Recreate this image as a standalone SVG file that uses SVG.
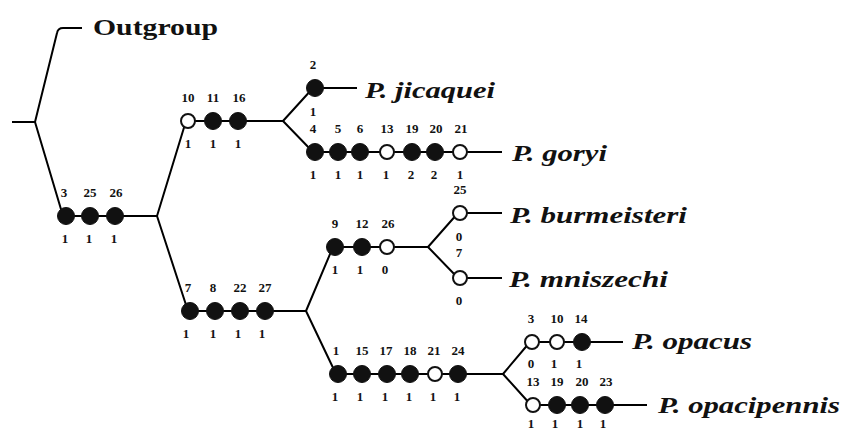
<svg xmlns="http://www.w3.org/2000/svg" width="842" height="432" viewBox="0 0 842 432">
<style>
.e{fill:none;stroke:#000;stroke-width:2;stroke-linejoin:round}
.f{fill:#111;stroke:#111;stroke-width:1}
.o{fill:#fff;stroke:#111;stroke-width:2}
.n{font-family:"Liberation Serif","Times New Roman",serif;font-size:13px;font-weight:bold;text-anchor:middle;fill:#111}
.t{font-family:"Liberation Serif","Times New Roman",serif;font-size:24px;font-weight:bold;font-style:italic;fill:#111}
.g{font-family:"Liberation Serif","Times New Roman",serif;font-size:24px;font-weight:bold;fill:#111}
</style>
<rect width="842" height="432" fill="#fff"/>
<g id="connectors">
<path class="e" d="M12,122 H35"/>
<path class="e" d="M35,122 L57,33 Q58,28 63,28 H82"/>
<path class="e" d="M35,122 L63,216 H157"/>
<path class="e" d="M157,216 L186,121 H283"/>
<path class="e" d="M283,121 L313,88 H357"/>
<path class="e" d="M283,121 L313,152 H502"/>
<path class="e" d="M157,216 L188,311 H306"/>
<path class="e" d="M306,311 L333,247 H428"/>
<path class="e" d="M428,247 L458,213 H502"/>
<path class="e" d="M428,247 L458,278 H502"/>
<path class="e" d="M306,311 L336,374 H503"/>
<path class="e" d="M503,374 L530,342 H623"/>
<path class="e" d="M503,374 L531,405 H647"/>
</g>
<g id="taxa">
<g id="outgroup"><text class="g" x="93" y="35" textLength="125" lengthAdjust="spacingAndGlyphs">Outgroup</text></g>
<g id="jicaquei"><text class="t" x="365" y="98" textLength="130" lengthAdjust="spacingAndGlyphs">P. jicaquei</text></g>
<g id="goryi"><text class="t" x="512" y="161" textLength="95" lengthAdjust="spacingAndGlyphs">P. goryi</text></g>
<g id="burmeisteri"><text class="t" x="510" y="223" textLength="177" lengthAdjust="spacingAndGlyphs">P. burmeisteri</text></g>
<g id="mniszechi"><text class="t" x="509" y="287" textLength="159" lengthAdjust="spacingAndGlyphs">P. mniszechi</text></g>
<g id="opacus"><text class="t" x="632" y="349" textLength="120" lengthAdjust="spacingAndGlyphs">P. opacus</text></g>
<g id="opacipennis"><text class="t" x="658" y="413" textLength="182" lengthAdjust="spacingAndGlyphs">P. opacipennis</text></g>
</g>
<g id="branch-a">
<circle class="f" cx="66" cy="216" r="8.5"/><circle class="f" cx="90" cy="216" r="8.5"/><circle class="f" cx="115" cy="216" r="8.5"/>
<text class="n" x="64" y="197">3</text><text class="n" x="90" y="197">25</text><text class="n" x="116" y="197">26</text>
<text class="n" x="65" y="243">1</text><text class="n" x="89" y="243">1</text><text class="n" x="114" y="243">1</text>
</g>
<g id="branch-b">
<circle class="o" cx="188" cy="121" r="7"/><circle class="f" cx="213" cy="121" r="8.5"/><circle class="f" cx="238" cy="121" r="8.5"/>
<text class="n" x="188" y="102">10</text><text class="n" x="213" y="102">11</text><text class="n" x="239" y="102">16</text>
<text class="n" x="188" y="148">1</text><text class="n" x="213" y="148">1</text><text class="n" x="238" y="148">1</text>
</g>
<g id="branch-jicaquei">
<circle class="f" cx="315" cy="88" r="8.5"/>
<text class="n" x="313" y="69">2</text><text class="n" x="313" y="116">1</text>
</g>
<g id="branch-goryi">
<circle class="f" cx="315" cy="152" r="8.5"/><circle class="f" cx="338" cy="152" r="8.5"/><circle class="f" cx="360" cy="152" r="8.5"/><circle class="o" cx="387" cy="152" r="7"/><circle class="f" cx="412" cy="152" r="8.5"/><circle class="f" cx="435" cy="152" r="8.5"/><circle class="o" cx="460" cy="152" r="7"/>
<text class="n" x="313" y="133">4</text><text class="n" x="338" y="133">5</text><text class="n" x="360" y="133">6</text><text class="n" x="387" y="133">13</text><text class="n" x="412" y="133">19</text><text class="n" x="436" y="133">20</text><text class="n" x="461" y="133">21</text>
<text class="n" x="313" y="179">1</text><text class="n" x="338" y="179">1</text><text class="n" x="360" y="179">1</text><text class="n" x="386" y="179">1</text><text class="n" x="411" y="179">2</text><text class="n" x="434" y="179">2</text><text class="n" x="460" y="179">1</text>
</g>
<g id="branch-c">
<circle class="f" cx="190" cy="311" r="8.5"/><circle class="f" cx="215" cy="311" r="8.5"/><circle class="f" cx="240" cy="311" r="8.5"/><circle class="f" cx="265" cy="311" r="8.5"/>
<text class="n" x="188" y="292">7</text><text class="n" x="213" y="292">8</text><text class="n" x="240" y="292">22</text><text class="n" x="265" y="292">27</text>
<text class="n" x="186" y="338">1</text><text class="n" x="213" y="338">1</text><text class="n" x="238" y="338">1</text><text class="n" x="262" y="338">1</text>
</g>
<g id="branch-d">
<circle class="f" cx="335" cy="247" r="8.5"/><circle class="f" cx="362" cy="247" r="8.5"/><circle class="o" cx="387" cy="247" r="7"/>
<text class="n" x="335" y="228">9</text><text class="n" x="362" y="228">12</text><text class="n" x="388" y="228">26</text>
<text class="n" x="335" y="274">1</text><text class="n" x="360" y="274">1</text><text class="n" x="385" y="274">0</text>
</g>
<g id="branch-burmeisteri">
<circle class="o" cx="460" cy="213" r="7"/>
<text class="n" x="460" y="194">25</text><text class="n" x="459" y="241">0</text>
</g>
<g id="branch-mniszechi">
<circle class="o" cx="460" cy="278" r="7"/>
<text class="n" x="459" y="257">7</text><text class="n" x="459" y="305">0</text>
</g>
<g id="branch-e">
<circle class="f" cx="338" cy="374" r="8.5"/><circle class="f" cx="362" cy="374" r="8.5"/><circle class="f" cx="387" cy="374" r="8.5"/><circle class="f" cx="410" cy="374" r="8.5"/><circle class="o" cx="435" cy="374" r="7"/><circle class="f" cx="458" cy="374" r="8.5"/>
<text class="n" x="336" y="355">1</text><text class="n" x="362" y="355">15</text><text class="n" x="386" y="355">17</text><text class="n" x="410" y="355">18</text><text class="n" x="434" y="355">21</text><text class="n" x="458" y="355">24</text>
<text class="n" x="335" y="401">1</text><text class="n" x="360" y="401">1</text><text class="n" x="385" y="401">1</text><text class="n" x="409" y="401">1</text><text class="n" x="433" y="401">1</text><text class="n" x="457" y="401">1</text>
</g>
<g id="branch-opacus">
<circle class="o" cx="532" cy="342" r="7"/><circle class="o" cx="557" cy="342" r="7"/><circle class="f" cx="582" cy="342" r="8.5"/>
<text class="n" x="531" y="323">3</text><text class="n" x="557" y="323">10</text><text class="n" x="581" y="323">14</text>
<text class="n" x="531" y="368">0</text><text class="n" x="554" y="368">1</text><text class="n" x="579" y="368">1</text>
</g>
<g id="branch-opacipennis">
<circle class="o" cx="533" cy="405" r="7"/><circle class="f" cx="557" cy="405" r="8.5"/><circle class="f" cx="580" cy="405" r="8.5"/><circle class="f" cx="605" cy="405" r="8.5"/>
<text class="n" x="533" y="386">13</text><text class="n" x="557" y="386">19</text><text class="n" x="582" y="386">20</text><text class="n" x="606" y="386">23</text>
<text class="n" x="531" y="428">1</text><text class="n" x="555" y="428">1</text><text class="n" x="580" y="428">1</text><text class="n" x="603" y="428">1</text>
</g>
</svg>
